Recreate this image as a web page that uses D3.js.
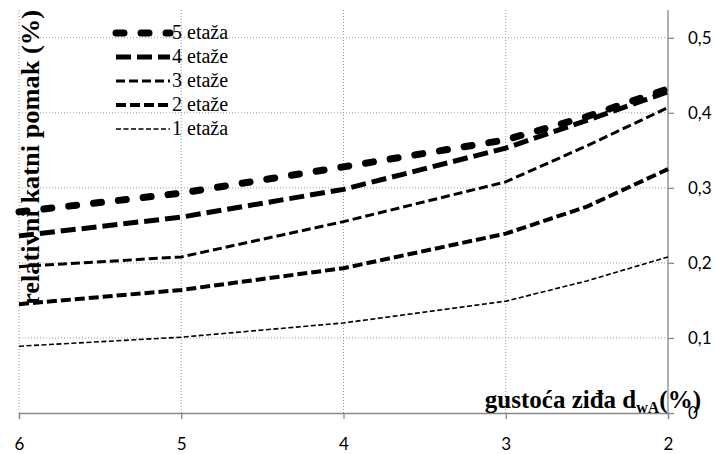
<!DOCTYPE html>
<html><head><meta charset="utf-8">
<script src="https://cdn.jsdelivr.net/npm/d3@7"></script>
<style>body{margin:0;background:#fff}</style>
</head><body>
<svg id="c" width="715" height="454"></svg>
<script>
const xValues = [6, 5, 4, 3, 2.5, 2];
const seriesNames = ["5 etaža", "4 etaže", "3 etaže", "2 etaže", "1 etaža"];
const s5 = [0.268, 0.293, 0.328, 0.364, 0.395, 0.432];
const s4 = [0.236, 0.261, 0.298, 0.353, 0.390, 0.428];
const s3 = [0.195, 0.208, 0.255, 0.308, 0.356, 0.407];
const s2 = [0.145, 0.164, 0.193, 0.239, 0.275, 0.325];
const s1 = [0.089, 0.101, 0.120, 0.149, 0.176, 0.208];
const xTicks = [6, 5, 4, 3, 2];
const yTicks = [0, 0.1, 0.2, 0.3, 0.4, 0.5];

const allSeries = [s5, s4, s3, s2, s1];
const styles = [
  {w: 7, dash: "8,17", cap: "round"},
  {w: 5, dash: "15,6", cap: "butt"},
  {w: 3, dash: "9,4", cap: "butt"},
  {w: 4, dash: "10,4", cap: "butt"},
  {w: 1.6, dash: "5,2.5", cap: "butt"}
];
const SERIF = "'Liberation Serif', 'Times New Roman', 'DejaVu Serif', serif";

const svg = d3.select("#c");
const L = 19, R = 668, T = 10, B = 413;
const x = d3.scaleLinear().domain([6, 2]).range([L, R]);
const y = d3.scaleLinear().domain([0, 0.537]).range([B, T]);

// grid
const g = svg.append("g");
g.selectAll(".hg").data(yTicks.filter(d => d > 0)).enter().append("line")
  .attr("x1", L).attr("x2", R).attr("y1", d => y(d)).attr("y2", d => y(d))
  .attr("stroke", "#999").attr("stroke-width", 1).attr("stroke-dasharray", "1,2");
g.selectAll(".vg").data(xTicks.filter(d => d !== 2)).enter().append("line")
  .attr("x1", d => x(d)).attr("x2", d => x(d)).attr("y1", T).attr("y2", B)
  .attr("stroke", "#999").attr("stroke-width", 1).attr("stroke-dasharray", "1,2");

// axes
const xAxis = svg.append("g").attr("transform", `translate(0,${B})`)
  .call(d3.axisBottom(x).tickValues(xTicks).tickSize(6).tickPadding(19).tickFormat(d3.format("d")));
const yAxis = svg.append("g").attr("transform", `translate(${R},0)`)
  .call(d3.axisRight(y).tickValues(yTicks).tickSize(6).tickPadding(14)
    .tickFormat(d => d === 0 ? "0" : d3.format(".1f")(d).replace(".", ",")));
[xAxis, yAxis].forEach(a => {
  a.select(".domain").attr("stroke", "#888").attr("stroke-width", 1.3);
  a.selectAll(".tick line").attr("stroke", "#888").attr("stroke-width", 1.3);
  a.selectAll("text").attr("font-family", "Lato, 'Open Sans', sans-serif").attr("font-size", 17).attr("fill", "#000");
});
yAxis.select(".domain").attr("d", `M0,${T}V${B}`);

// lines
const line = d3.line().x((d, i) => x(xValues[i])).y(d => y(d));
allSeries.forEach((s, k) => {
  svg.append("path").datum(s).attr("d", line)
    .attr("fill", "none").attr("stroke", "#000")
    .attr("stroke-width", styles[k].w).attr("stroke-dasharray", styles[k].dash)
    .attr("stroke-linecap", styles[k].cap);
});

// legend
const lg = svg.append("g");
seriesNames.forEach((n, k) => {
  const yy = 33 + k * 24;
  lg.append("line").attr("x1", 116).attr("x2", 170).attr("y1", yy).attr("y2", yy)
    .attr("stroke", "#000").attr("stroke-width", styles[k].w)
    .attr("stroke-dasharray", styles[k].dash).attr("stroke-linecap", styles[k].cap);
  lg.append("text").attr("x", 172).attr("y", yy + 6).text(n)
    .attr("font-family", SERIF).attr("font-size", 20);
});

// axis titles
svg.append("text").attr("transform", "translate(39,157.5) rotate(-90)")
  .attr("text-anchor", "middle").attr("font-family", SERIF)
  .attr("font-weight", "bold").attr("font-size", 26)
  .attr("textLength", 295).attr("lengthAdjust", "spacingAndGlyphs")
  .text("relativni katni pomak (%)");
const xt = svg.append("text").attr("x", 701).attr("y", 408).attr("text-anchor", "end")
  .attr("font-family", SERIF).attr("font-weight", "bold").attr("font-size", 25);
xt.append("tspan").text("gustoća ziđa d");
xt.append("tspan").attr("font-size", 16).attr("dy", 5).text("wA");
xt.append("tspan").attr("dy", -5).text("(%)");
</script>
</body></html>
